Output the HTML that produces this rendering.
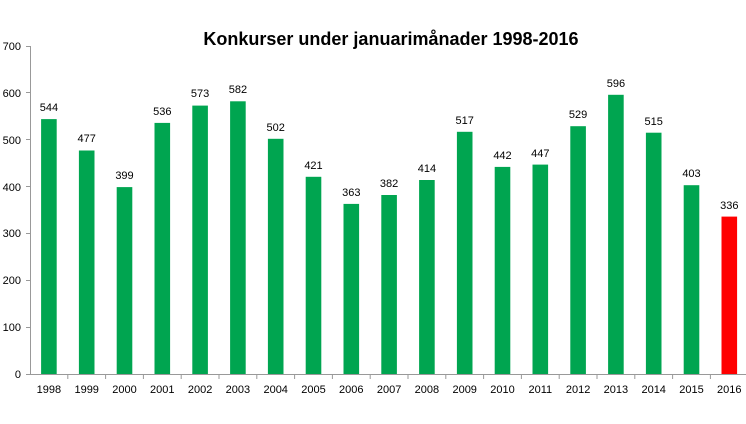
<!DOCTYPE html><html><head><style>body{margin:0;background:#fff}</style></head><body>
<svg width="746" height="419" xmlns="http://www.w3.org/2000/svg" font-family="Liberation Sans, sans-serif">
<text x="391" y="45" font-size="18" font-weight="bold" text-anchor="middle">Konkurser under januarimånader 1998-2016</text>
<g font-size="11" text-anchor="end">
<text x="21" y="378">0</text><text x="21" y="331">100</text><text x="21" y="284">200</text><text x="21" y="237">300</text><text x="21" y="191">400</text><text x="21" y="144">500</text><text x="21" y="97">600</text><text x="21" y="50">700</text>
</g>
<g stroke="#999">
<line x1="26" x2="30" y1="374.5" y2="374.5"/><line x1="26" x2="30" y1="327.5" y2="327.5"/><line x1="26" x2="30" y1="280.5" y2="280.5"/><line x1="26" x2="30" y1="233.5" y2="233.5"/><line x1="26" x2="30" y1="186.5" y2="186.5"/><line x1="26" x2="30" y1="139.5" y2="139.5"/><line x1="26" x2="30" y1="92.5" y2="92.5"/><line x1="26" x2="30" y1="46.5" y2="46.5"/>
<line x1="30.5" y1="46" x2="30.5" y2="374"/>
<line x1="30" y1="374.5" x2="746" y2="374.5"/>
<line x1="67.8" x2="67.8" y1="374" y2="379"/><line x1="105.6" x2="105.6" y1="374" y2="379"/><line x1="143.4" x2="143.4" y1="374" y2="379"/><line x1="181.2" x2="181.2" y1="374" y2="379"/><line x1="219" x2="219" y1="374" y2="379"/><line x1="256.8" x2="256.8" y1="374" y2="379"/><line x1="294.6" x2="294.6" y1="374" y2="379"/><line x1="332.4" x2="332.4" y1="374" y2="379"/><line x1="370.2" x2="370.2" y1="374" y2="379"/><line x1="408" x2="408" y1="374" y2="379"/><line x1="445.8" x2="445.8" y1="374" y2="379"/><line x1="483.6" x2="483.6" y1="374" y2="379"/><line x1="521.4" x2="521.4" y1="374" y2="379"/><line x1="559.2" x2="559.2" y1="374" y2="379"/><line x1="597" x2="597" y1="374" y2="379"/><line x1="634.8" x2="634.8" y1="374" y2="379"/><line x1="672.6" x2="672.6" y1="374" y2="379"/><line x1="710.4" x2="710.4" y1="374" y2="379"/>
</g>
<g fill="#00a550">
<rect x="41.1" y="119.1" width="15.6" height="254.9"/>
<rect x="78.9" y="150.5" width="15.6" height="223.5"/>
<rect x="116.7" y="187.1" width="15.6" height="186.9"/>
<rect x="154.5" y="122.9" width="15.6" height="251.1"/>
<rect x="192.3" y="105.6" width="15.6" height="268.4"/>
<rect x="230.1" y="101.3" width="15.6" height="272.7"/>
<rect x="267.9" y="138.8" width="15.6" height="235.2"/>
<rect x="305.7" y="176.8" width="15.6" height="197.2"/>
<rect x="343.5" y="203.9" width="15.6" height="170.1"/>
<rect x="381.3" y="195" width="15.6" height="179"/>
<rect x="419.1" y="180" width="15.6" height="194"/>
<rect x="456.9" y="131.8" width="15.6" height="242.2"/>
<rect x="494.7" y="166.9" width="15.6" height="207.1"/>
<rect x="532.5" y="164.6" width="15.6" height="209.4"/>
<rect x="570.3" y="126.2" width="15.6" height="247.8"/>
<rect x="608.1" y="94.8" width="15.6" height="279.2"/>
<rect x="645.9" y="132.7" width="15.6" height="241.3"/>
<rect x="683.7" y="185.2" width="15.6" height="188.8"/>
<rect x="721.5" y="216.6" width="15.6" height="157.4" fill="#ff0000"/>
</g>
<g font-size="11" text-anchor="middle">
<text x="48.9" y="111">544</text><text x="86.7" y="142">477</text><text x="124.5" y="179">399</text><text x="162.3" y="115">536</text><text x="200.1" y="97">573</text><text x="237.9" y="93">582</text><text x="275.7" y="131">502</text><text x="313.5" y="169">421</text><text x="351.3" y="196">363</text><text x="389.1" y="187">382</text><text x="426.9" y="172">414</text><text x="464.7" y="124">517</text><text x="502.5" y="159">442</text><text x="540.3" y="157">447</text><text x="578.1" y="118">529</text><text x="615.9" y="87">596</text><text x="653.7" y="125">515</text><text x="691.5" y="177">403</text><text x="729.3" y="209">336</text>
<text x="48.9" y="393">1998</text><text x="86.7" y="393">1999</text><text x="124.5" y="393">2000</text><text x="162.3" y="393">2001</text><text x="200.1" y="393">2002</text><text x="237.9" y="393">2003</text><text x="275.7" y="393">2004</text><text x="313.5" y="393">2005</text><text x="351.3" y="393">2006</text><text x="389.1" y="393">2007</text><text x="426.9" y="393">2008</text><text x="464.7" y="393">2009</text><text x="502.5" y="393">2010</text><text x="540.3" y="393">2011</text><text x="578.1" y="393">2012</text><text x="615.9" y="393">2013</text><text x="653.7" y="393">2014</text><text x="691.5" y="393">2015</text><text x="729.3" y="393">2016</text>
</g>
</svg></body></html>
